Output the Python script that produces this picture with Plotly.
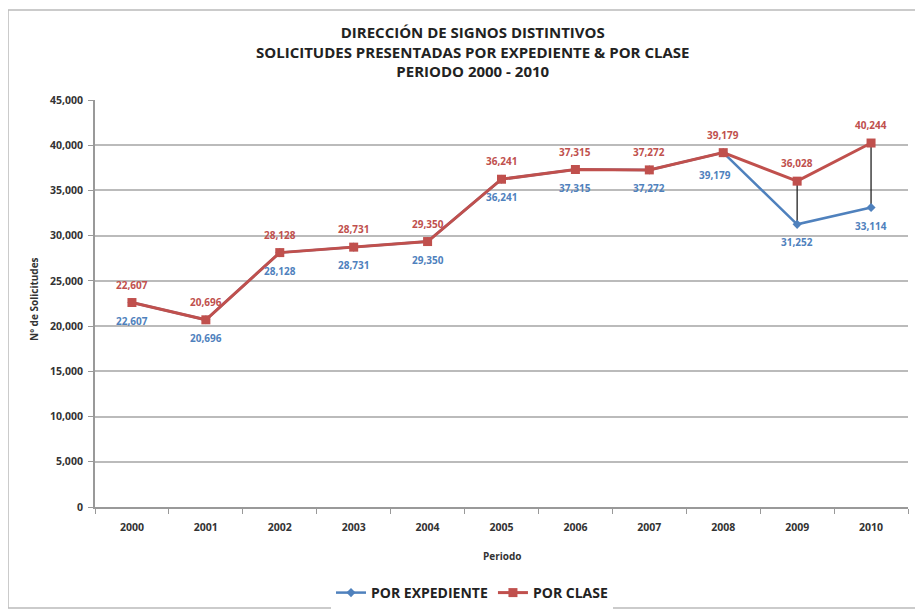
import plotly.graph_objects as go

years = ["2000", "2001", "2002", "2003", "2004", "2005", "2006", "2007", "2008", "2009", "2010"]
por_expediente = [22607, 20696, 28128, 28731, 29350, 36241, 37315, 37272, 39179, 31252, 33114]
por_clase = [22607, 20696, 28128, 28731, 29350, 36241, 37315, 37272, 39179, 36028, 40244]

blue = "#4F81BD"
red = "#C0504D"
font_family = "Open Sans, Liberation Sans, sans-serif"

def fmt(v):
    return f"{v:,}"

# the page body adds an 8px offset; figure sized so it fits the window
OFF = 8
W, H = 923 - OFF, 611 - OFF
ml, mr, mt, mb = 95 - OFF, 15, 100 - OFF, 104
ph = H - mt - mb
pw = W - ml - mr

def px_x(x):
    return (x - OFF - ml) / pw

def px_y(y):
    return (H - mb - (y - OFF)) / ph

fig = go.Figure()

# high-low lines between the two series
hl_x, hl_y = [], []
for x, a, b in zip(years, por_expediente, por_clase):
    hl_x += [x, x, None]
    hl_y += [a, b, None]
fig.add_trace(go.Scatter(x=hl_x, y=hl_y, mode="lines", line=dict(color="#222222", width=1.3),
                         showlegend=False, hoverinfo="skip"))

fig.add_trace(go.Scatter(
    x=years, y=por_expediente, name="POR EXPEDIENTE", mode="lines+markers",
    line=dict(color=blue, width=2.5), marker=dict(symbol="diamond", size=7, color=blue),
))
fig.add_trace(go.Scatter(
    x=years, y=por_clase, name="POR CLASE", mode="lines+markers",
    line=dict(color=red, width=3), marker=dict(symbol="square", size=9, color=red),
))

annotations = []
for i, (x, v) in enumerate(zip(years, por_expediente)):
    xs, ys = 0, -18
    if x == "2008":
        xs, ys = -8, -22
    annotations.append(dict(x=i, y=v, xref="x", yref="y", text=fmt(v), showarrow=False,
                            xshift=xs, yshift=ys, font=dict(size=10, color=blue, weight="bold")))
for i, (x, v) in enumerate(zip(years, por_clase)):
    annotations.append(dict(x=i, y=v, xref="x", yref="y", text=fmt(v), showarrow=False, yshift=18,
                            font=dict(size=10, color=red, weight="bold")))

annotations += [
    dict(text="DIRECCIÓN DE SIGNOS DISTINTIVOS<br>SOLICITUDES PRESENTADAS POR EXPEDIENTE & POR CLASE<br>PERIODO 2000 - 2010",
         xref="paper", yref="paper", x=px_x(472), y=px_y(52), xanchor="center", yanchor="middle",
         showarrow=False, font=dict(size=15, color="#222222", weight="bold")),
    dict(text="Nº de Solicitudes", textangle=-90, xref="paper", yref="paper",
         x=px_x(34), y=px_y(299), xanchor="center", yanchor="middle",
         showarrow=False, font=dict(size=10, color="#333333", weight="bold")),
    dict(text="Periodo", xref="paper", yref="paper",
         x=px_x(502), y=px_y(556), xanchor="center", yanchor="middle",
         showarrow=False, font=dict(size=10, color="#333333", weight="bold")),
]

fig.update_layout(
    width=W, height=H,
    margin=dict(l=ml, r=mr, t=mt, b=mb, autoexpand=False),
    paper_bgcolor="white", plot_bgcolor="white",
    font=dict(family=font_family, color="#333333"),
    showlegend=True,
    legend=dict(orientation="h", x=px_x(472), xanchor="center", y=px_y(593),
                yanchor="middle", font=dict(size=14, color="#222222", weight="bold"),
                itemwidth=30),
    xaxis=dict(type="category", categoryorder="array", categoryarray=years,
               range=[-0.5, len(years) - 0.5],
               showgrid=False, showline=True, linecolor="#999999", linewidth=2,
               ticks="outside", tickson="boundaries", ticklen=5, tickcolor="#999999",
               ticklabelstandoff=9,
               tickfont=dict(size=10.5, color="#333333", weight="bold"), fixedrange=True),
    yaxis=dict(range=[0, 45000], dtick=5000, tickformat=",", showgrid=True, gridcolor="#BBBBBB",
               gridwidth=1.5, showline=True, linecolor="#999999", linewidth=2, ticks="outside",
               ticklen=5, tickcolor="#999999", zeroline=False, ticklabelstandoff=3,
               tickfont=dict(size=10.5, color="#333333", weight="bold")),
    annotations=annotations,
    shapes=[dict(type="rect", xref="paper", yref="paper",
                 x0=px_x(8), x1=px_x(918), y0=px_y(608), y1=px_y(10),
                 line=dict(color="#BBBBBB", width=1.5), fillcolor="rgba(0,0,0,0)", layer="below")],
)

fig.write_html("out.html")
